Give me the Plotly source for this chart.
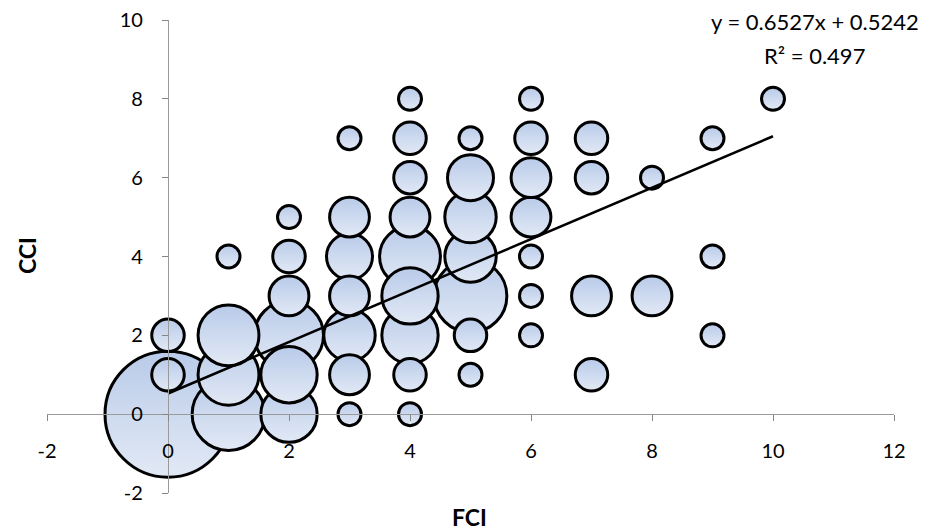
import numpy as np
import plotly.graph_objects as go

# FCI (x), CCI (y), bubble size (number of cases)
fci = [0, 0, 0,
       1, 1, 1, 1,
       2, 2, 2, 2, 2, 2,
       3, 3, 3, 3, 3, 3, 3,
       4, 4, 4, 4, 4, 4, 4, 4, 4,
       5, 5, 5, 5, 5, 5, 5,
       6, 6, 6, 6, 6, 6, 6,
       7, 7, 7, 7,
       8, 8,
       9, 9, 9,
       10]
cci = [0, 1, 2,
       0, 1, 2, 4,
       0, 1, 2, 3, 4, 5,
       0, 1, 2, 3, 4, 5, 7,
       0, 1, 2, 3, 4, 5, 6, 7, 8,
       1, 2, 3, 4, 5, 6, 7,
       2, 3, 4, 5, 6, 7, 8,
       1, 3, 6, 7,
       3, 6,
       2, 4, 7,
       8]
counts = [30, 2, 2,
          10, 7, 7, 1,
          6, 6, 9, 3, 2, 1,
          1, 3, 5, 3, 4, 3, 1,
          1, 2, 6, 6, 7, 3, 2, 2, 1,
          1, 2, 10, 5, 5, 4, 1,
          1, 1, 1, 3, 3, 2, 1,
          2, 3, 2, 2,
          3, 1,
          1, 1, 1,
          1]

trend_slope = 0.6527
trend_intercept = 0.5242
trend_x = [0, 10]
eq_text = "y = 0.6527x + 0.5242"
r2_text = "R² = 0.497"

x_ticks = [-2, 0, 2, 4, 6, 8, 10, 12]
x_tick_labels = ["-2", "0", "2", "4", "6", "8", "10", "12"]
y_ticks = [-2, 0, 2, 4, 6, 8, 10]
y_tick_labels = ["-2", "0", "2", "4", "6", "8", "10"]

order = sorted(range(len(counts)), key=lambda i: -counts[i])
xs = [fci[i] for i in order]
ys = [cci[i] for i in order]
ss = [23 * np.sqrt(counts[i]) for i in order]

FONT = "Lato"
fig = go.Figure()
fig.add_trace(go.Scatter(
    x=xs, y=ys, mode="markers",
    marker=dict(size=ss, sizemode="diameter", color="#b9cbe9", opacity=1,
                gradient=dict(type="vertical", color="#e2e9f5"),
                line=dict(color="black", width=3)),
    hoverinfo="skip", showlegend=False))
fig.add_trace(go.Scatter(
    x=trend_x, y=[trend_slope * v + trend_intercept for v in trend_x],
    mode="lines", line=dict(color="black", width=2.5),
    hoverinfo="skip", showlegend=False))

axis_common = dict(showline=True, linecolor="#9a9a9a", linewidth=1.3,
                   ticks="outside", ticklen=6, tickcolor="#868686", tickwidth=1.3,
                   showgrid=False, zeroline=False, anchor="free", automargin=False,
                   ticklabeloverflow="allow",
                   tickfont=dict(family=FONT, size=20, color="black"))
fig.update_layout(
    width=924, height=523,
    margin=dict(l=39, r=38, t=12, b=38, autoexpand=False),
    plot_bgcolor="white", paper_bgcolor="white",
    xaxis=dict(range=[-2, 12], tickvals=x_ticks, ticktext=x_tick_labels, position=2/12,
               ticklabelstandoff=13, **axis_common),
    yaxis=dict(range=[-2, 10], tickvals=y_ticks, ticktext=y_tick_labels, position=2/14,
               ticklabelstandoff=15, **axis_common),
    annotations=[
        dict(text="<b>FCI</b>", x=0.4994, y=-0.0505, xref="paper", yref="paper",
             xanchor="center", yanchor="middle",
             showarrow=False, font=dict(family=FONT, size=23, color="black")),
        dict(text="<b>CCI</b>", x=-0.0236, y=0.501, xref="paper", yref="paper",
             xanchor="center", yanchor="middle",
             textangle=-90, showarrow=False, font=dict(family=FONT, size=23, color="black")),
        dict(text=eq_text, x=0.9067, y=0.996, xref="paper", yref="paper",
             xanchor="center", yanchor="middle",
             showarrow=False, font=dict(family=FONT, size=22, color="black")),
        dict(text=r2_text, x=0.9067, y=0.926, xref="paper", yref="paper",
             xanchor="center", yanchor="middle",
             showarrow=False, font=dict(family=FONT, size=22, color="black")),
    ],
)
fig.write_html("out.html")
